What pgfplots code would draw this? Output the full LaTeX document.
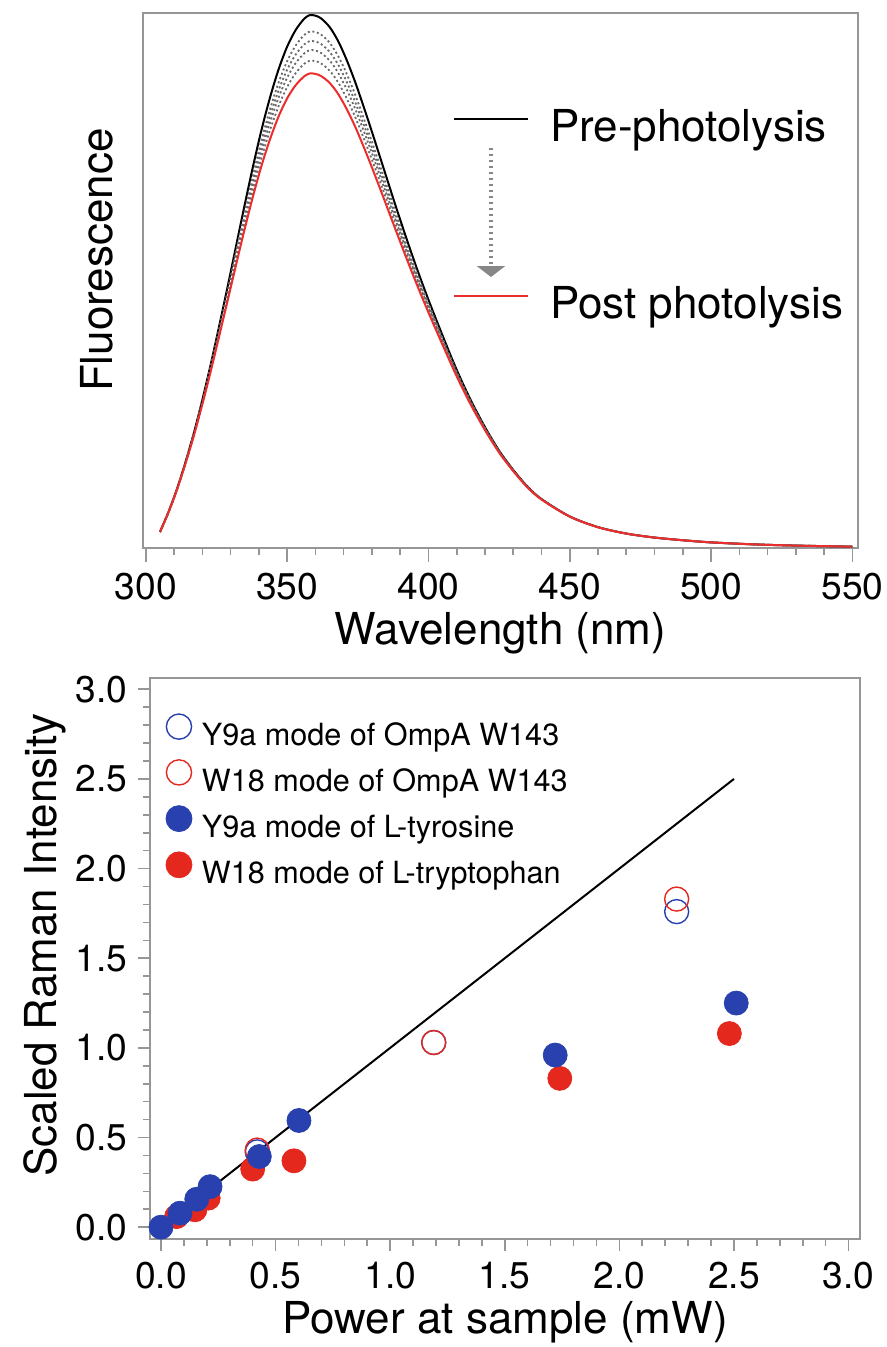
\documentclass[border=0pt]{standalone}
\usepackage{fontspec}
\setmainfont{TeX Gyre Heros}
\usepackage{pgfplots}
\usepackage{pgfplotstable}
\pgfplotsset{compat=1.18}
\usetikzlibrary{arrows.meta}

\definecolor{curvered}{RGB}{236,45,45}
\definecolor{axisgray}{RGB}{150,150,150}
\definecolor{dotgray}{RGB}{105,105,105}
\definecolor{arrowgray}{RGB}{135,135,135}
\definecolor{ptblue}{RGB}{40,65,175}
\definecolor{ptred}{RGB}{228,40,30}

% emission spectra: pre-photolysis (b), four intermediate scans, post (r)
\pgfplotstableread{
wl  b      d1     d2     d3     d4     r
305 0.030  0.0300 0.0300 0.0300 0.0300 0.0299
308 0.067  0.0669 0.0668 0.0667 0.0666 0.0665
311 0.110  0.1096 0.1094 0.1092 0.1090 0.1087
314 0.160  0.1592 0.1587 0.1583 0.1578 0.1572
317 0.215  0.2136 0.2127 0.2120 0.2110 0.2099
320 0.277  0.2746 0.2732 0.2719 0.2704 0.2686
323 0.344  0.3403 0.3382 0.3362 0.3338 0.3310
326 0.416  0.4106 0.4075 0.4046 0.4011 0.3970
329 0.490  0.4826 0.4782 0.4742 0.4694 0.4636
332 0.566  0.5561 0.5503 0.5449 0.5385 0.5308
335 0.642  0.6292 0.6218 0.6148 0.6066 0.5967
338 0.715  0.6992 0.6900 0.6813 0.6710 0.6588
341 0.783  0.7640 0.7530 0.7425 0.7303 0.7156
344 0.843  0.8210 0.8082 0.7961 0.7819 0.7648
347 0.895  0.8702 0.8558 0.8421 0.8261 0.8069
350 0.937  0.9098 0.8940 0.8791 0.8615 0.8404
353 0.968  0.9390 0.9221 0.9062 0.8874 0.8649
356 0.989  0.9587 0.9411 0.9244 0.9049 0.8814
358 0.996  0.9653 0.9474 0.9305 0.9107 0.8869
360 0.995  0.9643 0.9465 0.9297 0.9099 0.8861
362 0.990  0.9596 0.9420 0.9253 0.9057 0.8822
365 0.974  0.9446 0.9275 0.9114 0.8924 0.8696
368 0.948  0.9201 0.9040 0.8887 0.8707 0.8491
371 0.913  0.8872 0.8722 0.8580 0.8413 0.8213
374 0.872  0.8484 0.8347 0.8218 0.8066 0.7884
377 0.826  0.8049 0.7926 0.7810 0.7673 0.7510
380 0.778  0.7592 0.7483 0.7381 0.7260 0.7114
384 0.712  0.6963 0.6872 0.6785 0.6684 0.6562
388 0.646  0.6331 0.6256 0.6185 0.6101 0.6001
392 0.582  0.5715 0.5654 0.5596 0.5529 0.5447
396 0.521  0.5126 0.5077 0.5031 0.4977 0.4911
400 0.464  0.4573 0.4535 0.4498 0.4455 0.4403
405 0.397  0.3921 0.3893 0.3866 0.3834 0.3797
410 0.333  0.3296 0.3276 0.3257 0.3235 0.3208
415 0.276  0.2736 0.2723 0.2710 0.2695 0.2676
420 0.226  0.2244 0.2235 0.2226 0.2216 0.2204
425 0.182  0.1810 0.1804 0.1798 0.1792 0.1784
430 0.146  0.1453 0.1450 0.1446 0.1442 0.1437
435 0.115  0.1146 0.1144 0.1141 0.1139 0.1135
440 0.0915 0.0912 0.0911 0.0909 0.0908 0.0906
450 0.059  0.0589 0.0588 0.0588 0.0587 0.0586
460 0.039  0.0390 0.0389 0.0389 0.0389 0.0388
470 0.027  0.0270 0.0270 0.0270 0.0270 0.0269
480 0.0195 0.0195 0.0195 0.0195 0.0195 0.0195
490 0.0145 0.0145 0.0145 0.0145 0.0145 0.0145
500 0.0105 0.0105 0.0105 0.0105 0.0105 0.0105
515 0.0068 0.0068 0.0068 0.0068 0.0068 0.0068
530 0.0045 0.0045 0.0045 0.0045 0.0045 0.0045
550 0.0025 0.0025 0.0025 0.0025 0.0025 0.0025
}\spectra

\pgfplotsset{
  figstyle/.style={
    scale only axis,
    axis line style={axisgray, line width=0.9pt},
    tick style={axisgray, line width=0.8pt},
    tick align=outside,
    tick pos=left,
    tick label style={font=\fontsize{18.6}{20}\selectfont, inner sep=0pt},
    label style={font=\fontsize{22}{24}\selectfont},
    /pgf/number format/assume math mode=true,
  },
}

\begin{document}
\begin{tikzpicture}
% page frame, in the proportions of the reference (1 px = 0.5 pt)
\useasboundingbox (-71.5pt,-399.5pt) rectangle (372pt,274pt);
% ---------------- top panel: fluorescence spectra ----------------
\begin{axis}[figstyle,
    at={(0pt,0pt)}, anchor=south west,
    width=357.5pt, height=267.5pt,
    xmin=299, xmax=552, ymin=0, ymax=1,
    xtick={300,350,...,550}, minor x tick num=4,
    ytick=\empty,
    major tick length=7pt, minor tick length=3.5pt,
    xticklabel style={anchor=base}, xticklabel shift=19pt,
    xlabel={Wavelength (nm)},
    xlabel style={at={(axis description cs:0.5,-0.181)}, anchor=base},
    ylabel={Fluorescence},
    ylabel style={at={(axis description cs:-0.064,0.538)}, anchor=center},
    legend cell align=left,
    legend image code/.code={\draw[#1] (0pt,6pt) -- (37pt,6pt);},
    legend style={at={(axis description cs:0.4336,0.8168)}, anchor=north west,
      draw=none, fill=none, inner sep=0pt, outer sep=0pt,
      font=\fontsize{22}{24}\selectfont,
      nodes={inner sep=0pt, text height=15pt, text depth=5pt},
      row sep=68.5pt,
      /tikz/every odd column/.append style={column sep=10.5pt}},
  ]
  \addplot[black, line width=1pt, smooth] table[x=wl, y=b]{\spectra};
  \addlegendentry{Pre-photolysis}
  \addplot[dotgray, line width=0.9pt, dash pattern=on 1pt off 1.3pt, smooth, forget plot] table[x=wl, y=d1]{\spectra};
  \addplot[dotgray, line width=0.9pt, dash pattern=on 1pt off 1.3pt, smooth, forget plot] table[x=wl, y=d2]{\spectra};
  \addplot[dotgray, line width=0.9pt, dash pattern=on 1pt off 1.3pt, smooth, forget plot] table[x=wl, y=d3]{\spectra};
  \addplot[dotgray, line width=0.9pt, dash pattern=on 1pt off 1.3pt, smooth, forget plot] table[x=wl, y=d4]{\spectra};
  \addplot[curvered, line width=1pt, smooth] table[x=wl, y=r]{\spectra};
  \addlegendentry{Post photolysis}
  \draw[arrowgray, line width=2.2pt, dash pattern=on 1.2pt off 1.8pt,
        -{Triangle[width=14pt,length=5.5pt]}]
    (rel axis cs:0.4867,0.7477) -- (rel axis cs:0.4867,0.5065);
\end{axis}

% ---------------- bottom panel: Raman intensity vs power ----------------
\begin{axis}[figstyle,
    at={(3.5pt,-345.5pt)}, anchor=south west,
    width=355pt, height=280.5pt,
    xmin=-0.048, xmax=3.05, ymin=-0.066, ymax=3.063,
    xtick={0,0.5,...,3}, ytick={0,0.5,...,3},
    minor x tick num=4, minor y tick num=4,
    major tick length=6pt, minor tick length=3.5pt,
    /pgf/number format/.cd, fixed, fixed zerofill, precision=1, /pgfplots/.cd,
    xticklabel style={anchor=base}, xticklabel shift=18.5pt,
    yticklabel shift=5pt,
    xlabel={Power at sample (mW)},
    xlabel style={at={(axis description cs:0.5,-0.1676)}, anchor=base},
    ylabel={Scaled Raman Intensity},
    ylabel style={at={(axis description cs:-0.148,0.524)}, anchor=center},
    legend cell align=left,
    legend image code/.code={\draw[mark repeat=2, mark phase=2, #1]
      plot coordinates {(0pt,5.5pt) (6.5pt,5.5pt) (13pt,5.5pt)};},
    legend style={at={(axis description cs:0.0225,0.9358)}, anchor=north west,
      draw=none, fill=none, inner sep=0pt, outer sep=0pt,
      font=\fontsize{15.3}{17}\selectfont,
      nodes={inner sep=0pt, text height=11pt, text depth=3pt},
      row sep=4.1pt,
      /tikz/every odd column/.append style={column sep=5pt}},
  ]
  \addlegendimage{only marks, mark=o, mark size=6.3pt, draw=ptblue, line width=0.7pt}
  \addlegendentry{Y9a mode of OmpA W143}
  \addlegendimage{only marks, mark=o, mark size=6.3pt, draw=ptred, line width=0.7pt}
  \addlegendentry{W18 mode of OmpA W143}
  \addlegendimage{only marks, mark=*, mark size=6.5pt, draw=ptblue, fill=ptblue}
  \addlegendentry{Y9a mode of L-tyrosine}
  \addlegendimage{only marks, mark=*, mark size=6.5pt, draw=ptred, fill=ptred}
  \addlegendentry{W18 mode of L-tryptophan}

  \addplot[black, line width=1pt, forget plot] coordinates {(0,0) (2.5,2.5)};
  % Y9a mode of OmpA W143
  \addplot[only marks, mark=o, mark size=6pt, draw=ptblue, line width=0.7pt, forget plot]
    coordinates {(0.42,0.42) (1.19,1.03) (2.25,1.76)};
  % W18 mode of OmpA W143
  \addplot[only marks, mark=o, mark size=6pt, draw=ptred, line width=0.7pt, forget plot]
    coordinates {(0.42,0.43) (1.19,1.03) (2.25,1.83)};
  % W18 mode of L-tryptophan
  \addplot[only marks, mark=*, mark size=6pt, draw=ptred, fill=ptred, forget plot]
    coordinates {(0.068,0.059) (0.148,0.097) (0.206,0.162) (0.40,0.324) (0.58,0.37) (1.74,0.83) (2.48,1.08)};
  % Y9a mode of L-tyrosine
  \addplot[only marks, mark=*, mark size=6pt, draw=ptblue, fill=ptblue, forget plot]
    coordinates {(0,0) (0.083,0.078) (0.156,0.156) (0.214,0.226) (0.429,0.394) (0.602,0.595) (1.72,0.96) (2.51,1.25)};
\end{axis}
\end{tikzpicture}
\end{document}
